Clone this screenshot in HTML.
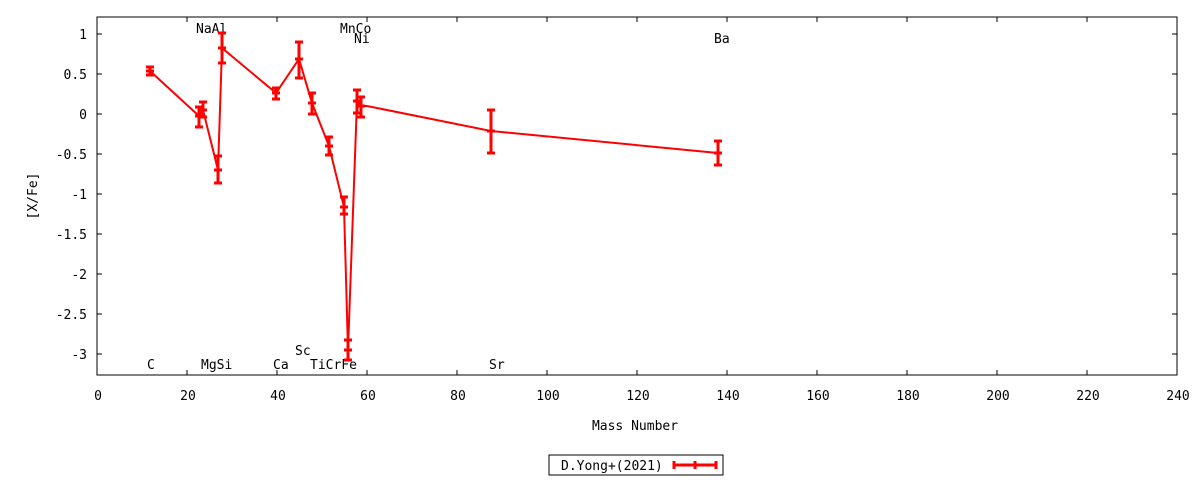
<!DOCTYPE html>
<html><head><meta charset="utf-8"><style>
html,body{margin:0;padding:0;background:#fff;width:1200px;height:480px;overflow:hidden}
text{font-family:"DejaVu Sans Mono","Liberation Mono",monospace;font-size:13px;fill:#000}
</style></head><body>
<svg width="1200" height="480" viewBox="0 0 1200 480" xmlns="http://www.w3.org/2000/svg">
<rect x="97" y="17" width="1080" height="358" fill="none" stroke="#000" stroke-width="1"/>
<g stroke="#000" stroke-width="1">
<line x1="97" y1="34" x2="102" y2="34"/><line x1="97" y1="74" x2="102" y2="74"/><line x1="97" y1="114" x2="102" y2="114"/><line x1="97" y1="154" x2="102" y2="154"/><line x1="97" y1="194" x2="102" y2="194"/><line x1="97" y1="234" x2="102" y2="234"/><line x1="97" y1="274" x2="102" y2="274"/><line x1="97" y1="314" x2="102" y2="314"/><line x1="97" y1="354" x2="102" y2="354"/>
<line x1="1177" y1="34" x2="1172" y2="34"/><line x1="1177" y1="74" x2="1172" y2="74"/><line x1="1177" y1="114" x2="1172" y2="114"/><line x1="1177" y1="154" x2="1172" y2="154"/><line x1="1177" y1="194" x2="1172" y2="194"/><line x1="1177" y1="234" x2="1172" y2="234"/><line x1="1177" y1="274" x2="1172" y2="274"/><line x1="1177" y1="314" x2="1172" y2="314"/><line x1="1177" y1="354" x2="1172" y2="354"/>
<path d="M187 375v-5M277 375v-5M367 375v-5M457 375v-5M547 375v-5M637 375v-5M727 375v-5M817 375v-5M907 375v-5M997 375v-5M1087 375v-5M187 17v5M277 17v5M367 17v5M457 17v5M547 17v5M637 17v5M727 17v5M817 17v5M907 17v5M997 17v5M1087 17v5"/>
</g>
<g text-anchor="end">
<text x="87" y="39">1</text><text x="87" y="79">0.5</text><text x="87" y="119">0</text><text x="87" y="159">-0.5</text><text x="87" y="199">-1</text><text x="87" y="239">-1.5</text><text x="87" y="279">-2</text><text x="87" y="319">-2.5</text><text x="87" y="359">-3</text>
</g>
<g text-anchor="middle">
<text x="98" y="400">0</text><text x="188" y="400">20</text><text x="278" y="400">40</text><text x="368" y="400">60</text><text x="458" y="400">80</text><text x="548" y="400">100</text><text x="638" y="400">120</text><text x="728" y="400">140</text><text x="818" y="400">160</text><text x="908" y="400">180</text><text x="998" y="400">200</text><text x="1088" y="400">220</text><text x="1178" y="400">240</text>
<text x="635" y="430">Mass Number</text>
</g>
<text x="37" y="196" text-anchor="middle" transform="rotate(-90 37 196)">[X/Fe]</text>
<text x="147" y="369">C</text><text x="196" y="33">NaAl</text><text x="201" y="369">MgSi</text><text x="273" y="369">Ca</text><text x="295" y="355">Sc</text><text x="310" y="369">TiCrFe</text><text x="340" y="33">MnCo</text><text x="354" y="43">Ni</text><text x="489" y="369">Sr</text><text x="714" y="43">Ba</text>
<g stroke="#f00" stroke-width="2" fill="none">
<polyline points="150,71 199,116 203,110 218,170 222,48 276,93 299,59 312,103 329,146 344,207 348,350 357,101 361,106 367,106 491,131 718,153"/>
<path stroke-width="3" d="M150 67v8M199 107v20M203 102v15M218 156v27M222 33v30M276 88v11M299 42v36M312 93v21M329 137v18M344 197v17M348 340v20M357 90v23M361 97v20M491 110v43M718 141v24"/>
<path stroke-width="3" d="M146 67h8M146 75h8M195 107h8M195 127h8M199 102h8M199 117h8M214 156h8M214 183h8M218 33h8M218 63h8M272 88h8M272 99h8M295 42h8M295 78h8M308 93h8M308 114h8M325 137h8M325 155h8M340 197h8M340 214h8M344 340h8M344 360h8M353 90h8M353 113h8M357 97h8M357 117h8M487 110h8M487 153h8M714 141h8M714 165h8"/>
<path stroke-width="3" d="M146 71h8M195 116h8M199 110h8M214 170h8M218 48h8M272 93h8M295 59h8M308 103h8M325 146h8M340 207h8M344 350h8M353 101h8M357 106h8M487 131h8M714 153h8"/>
</g>
<rect x="549" y="455" width="174" height="20" fill="none" stroke="#000"/>
<text x="561" y="470">D.Yong+(2021)</text>
<g stroke="#f00" stroke-width="3"><path d="M674 465h42M674 461v8M716 461v8M695 461v8"/></g>
</svg>
</body></html>
